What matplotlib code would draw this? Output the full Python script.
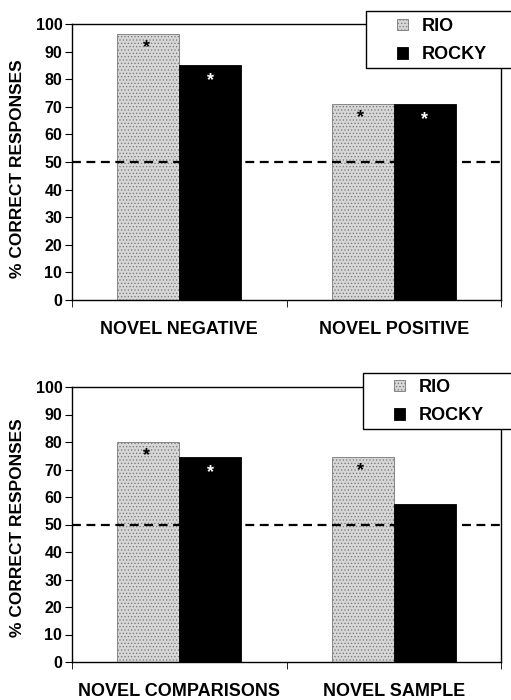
import matplotlib
matplotlib.use("Agg")
import matplotlib.pyplot as plt
from matplotlib.patches import Rectangle
import numpy as np

plt.rcParams['font.family'] = ['Liberation Sans', 'DejaVu Sans']
plt.rcParams['font.weight'] = 'bold'
plt.rcParams['hatch.color'] = '#a8a8a8'
plt.rcParams['hatch.linewidth'] = 0.5

series = ["RIO", "ROCKY"]
top_categories = ["NOVEL NEGATIVE", "NOVEL POSITIVE"]
top_rio = [96.5, 71.0]
top_rocky = [85.0, 71.0]
top_sig_rio = [True, True]
top_sig_rocky = [True, True]

bottom_categories = ["NOVEL COMPARISONS", "NOVEL SAMPLE"]
bottom_rio = [80.0, 74.5]
bottom_rocky = [74.5, 57.5]
bottom_sig_rio = [True, True]
bottom_sig_rocky = [True, False]

chance = 50
yticks = list(range(0, 101, 10))

rio_color = '#d6d6d6'
rocky_color = '#000000'

W, H = 511, 700
fig = plt.figure(figsize=(W / 100, H / 100), dpi=100)

def panel(rect, cats, rio, rocky, sig_rio, sig_rocky, leg_box, leg_anchor, ylab_y):
    ax = fig.add_axes(rect)
    x = np.arange(len(cats))
    w = 0.29
    ax.bar(x - w/2, rio, w, color=rio_color, edgecolor='#777777', linewidth=0.6, hatch='.....', label=series[0])
    ax.bar(x + w/2, rocky, w, color=rocky_color, edgecolor='black', linewidth=0.6, label=series[1])
    for i in range(len(cats)):
        if sig_rio[i]:
            ax.text(x[i] - w/2 - 0.01, rio[i] - 5, '*', ha='center', va='center', color='black', fontsize=13, fontweight='bold')
        if sig_rocky[i]:
            ax.text(x[i] + w/2, rocky[i] - 5.5, '*', ha='center', va='center', color='white', fontsize=13, fontweight='bold')
    ax.axhline(chance, color='black', linestyle=(0, (4, 2.5)), linewidth=1.6, zorder=3)
    ax.set_xlim(-0.5, len(cats) - 0.5)
    ax.set_ylim(0, 100)
    ax.set_yticks(yticks)
    ax.set_yticklabels([str(t) for t in yticks], fontsize=11.5, fontweight='bold')
    ax.set_xticks(x)
    ax.set_xticklabels(cats, fontsize=13, fontweight='bold')
    ax.tick_params(axis='x', length=0, pad=15)
    ax.set_xticks(np.arange(-0.5, len(cats), 1.0), minor=True)
    ax.tick_params(axis='x', which='minor', length=5, direction='out')
    ax.tick_params(axis='y', length=5, direction='out', pad=2)
    ax.set_ylabel('% CORRECT RESPONSES', fontsize=12.5, fontweight='bold')
    ax.yaxis.set_label_coords(-0.11, ylab_y)
    for s in ax.spines.values():
        s.set_linewidth(1.0)
    # legend frame (extends past the right edge of the figure, as in the original)
    x0, y0, x1, y1 = leg_box
    ax.add_patch(Rectangle((x0 / W, 1 - y1 / H), (x1 - x0) / W, (y1 - y0) / H,
                           transform=fig.transFigure, facecolor='white',
                           edgecolor='black', linewidth=1.0, zorder=5, clip_on=False))
    leg = ax.legend(loc='upper left', bbox_to_anchor=leg_anchor, bbox_transform=fig.transFigure,
                    fontsize=13, frameon=False,
                    handlelength=0.6, handleheight=0.6, handletextpad=0.75,
                    borderpad=0, labelspacing=0.62, borderaxespad=0)
    leg.set_zorder(6)
    for t in leg.get_texts():
        t.set_fontweight('bold')
    return ax

panel([72/W, 1 - 300/H, (501-72)/W, (300-24)/H], top_categories, top_rio, top_rocky,
      top_sig_rio, top_sig_rocky, (366, 11, 520, 68), (397/W, 1 - 18/H), 0.475)
panel([72/W, 1 - 662/H, (501-72)/W, (662-387)/H], bottom_categories, bottom_rio, bottom_rocky,
      bottom_sig_rio, bottom_sig_rocky, (363, 373, 520, 429), (394/W, 1 - 379/H), 0.487)

fig.savefig('out.png', dpi=100)
